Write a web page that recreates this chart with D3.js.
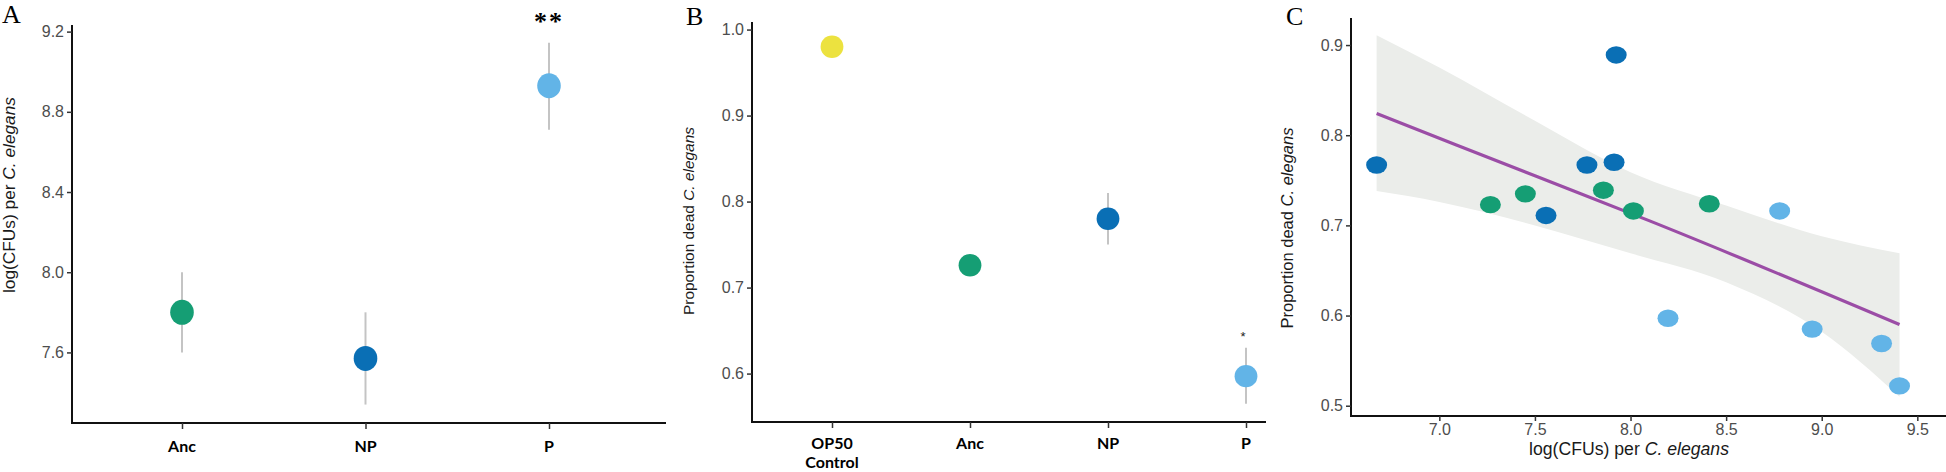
<!DOCTYPE html>
<html>
<head>
<meta charset="utf-8">
<script src="https://cdn.jsdelivr.net/npm/d3@7/dist/d3.min.js"></script>
<style>
  html, body { margin: 0; padding: 0; background: #fff; }
  svg { display: block; }
  .tick text { font-family: "Liberation Sans", Arial, sans-serif; fill: #4d4d4d; }
</style>
</head>
<body>
<svg id="chart" width="1946" height="472"></svg>
<script>
// ---------------- DATA ----------------
// Panel A
const catsA = ["Anc", "NP", "P"];
const meanA = [7.80, 7.57, 8.93];
const lowA  = [7.60, 7.34, 8.71];
const highA = [8.00, 7.80, 9.145];
const sigA  = ["", "", "**"];
const ticksA = [7.6, 8.0, 8.4, 8.8, 9.2];

// Panel B
const catsB = ["OP50|Control", "Anc", "NP", "P"];
const meanB = [0.980, 0.726, 0.780, 0.597];
const lowB  = [null, null, 0.750, 0.565];
const highB = [null, null, 0.810, 0.630];
const sigB  = ["", "", "", "*"];
const ticksB = [0.6, 0.7, 0.8, 0.9, 1.0];

// Panel C
const xC = [6.672, 7.925, 7.772, 7.914, 7.558, 7.267, 7.450, 7.858, 8.015, 8.412, 8.780, 8.196, 8.950, 9.313, 9.407];
const yC = [0.767, 0.889, 0.767, 0.770, 0.711, 0.723, 0.735, 0.739, 0.716, 0.724, 0.716, 0.597, 0.585, 0.569, 0.522];
const gC = ["NP", "NP", "NP", "NP", "NP", "Anc", "Anc", "Anc", "Anc", "Anc", "P", "P", "P", "P", "P"];
const fitX = [6.672, 7.5, 8.1, 9.407];
const fitY = [0.824, 0.755, 0.705, 0.590];
const ciX  = [6.672, 7.0, 7.5, 8.0, 8.5, 9.0, 9.407];
const ciHi = [0.911, 0.875, 0.816, 0.759, 0.722, 0.688, 0.669];
const ciLo = [0.738, 0.726, 0.700, 0.669, 0.637, 0.582, 0.510];
const ticksCx = [7.0, 7.5, 8.0, 8.5, 9.0, 9.5];
const ticksCy = [0.5, 0.6, 0.7, 0.8, 0.9];

const colors = { "OP50|Control": "#ECE23F", "Anc": "#159E74", "NP": "#0A6FB5", "P": "#62B4E7" };

// ---------------- LAYOUT ----------------
const svg = d3.select("#chart");
const sans = '"Liberation Sans", Arial, sans-serif';
const serif = '"Liberation Serif", "Times New Roman", serif';
const lato = 'Lato, "Open Sans", sans-serif';

const LA = { l: 72, r: 666, t: 25, b: 423 };
const LB = { l: 752, r: 1266, t: 22, b: 422 };
const LC = { l: 1351, r: 1946, t: 18, b: 416 };

function frame(L) {
  svg.append("line").attr("x1", L.l).attr("x2", L.l).attr("y1", L.t).attr("y2", L.b + 1)
    .attr("stroke", "#111").attr("stroke-width", 2);
  svg.append("line").attr("x1", L.l - 1).attr("x2", L.r).attr("y1", L.b).attr("y2", L.b)
    .attr("stroke", "#111").attr("stroke-width", 2);
}
function yAxis(scale, L, ticks, fmt) {
  const g = svg.append("g").attr("transform", `translate(${L.l},0)`)
    .call(d3.axisLeft(scale).tickValues(ticks).tickFormat(fmt).tickSize(5).tickPadding(3));
  g.select(".domain").remove();
  g.selectAll(".tick line").attr("stroke", "#333").attr("stroke-width", 1.5);
  g.selectAll(".tick text").attr("font-size", 16);
}
function yTitle(x, y, pre, len, size) {
  const t = svg.append("text").attr("transform", `translate(${x},${y}) rotate(-90)`)
    .attr("text-anchor", "middle").attr("font-family", sans).attr("font-size", size).attr("fill", "#1a1a1a")
    .attr("textLength", len).attr("lengthAdjust", "spacingAndGlyphs");
  t.append("tspan").text(pre);
  t.append("tspan").attr("font-style", "italic").text("C. elegans");
}
function panelLabel(x, y, s) {
  svg.append("text").attr("x", x).attr("y", y).attr("font-family", serif).attr("font-size", 26)
    .attr("fill", "#000").text(s);
}

// ---------------- PANEL A ----------------
const xA = d3.scalePoint().domain(catsA).range([182, 549]);
const yA = d3.scaleLinear().domain([7.248, 9.233]).range([LA.b, LA.t]);
frame(LA);
yAxis(yA, LA, ticksA, d3.format(".1f"));
const gAx = svg.append("g").attr("transform", `translate(0,${LA.b})`)
  .call(d3.axisBottom(xA).tickSize(6).tickFormat(""));
gAx.select(".domain").remove();
gAx.selectAll(".tick line").attr("stroke", "#333").attr("stroke-width", 1.5);
svg.append("g").selectAll("text").data(catsA).join("text")
  .attr("x", d => xA(d)).attr("y", 452).attr("text-anchor", "middle")
  .attr("font-family", lato).attr("font-weight", 700).attr("font-size", 16).attr("fill", "#000")
  .text(d => d);
svg.append("g").selectAll("line").data(catsA).join("line")
  .attr("x1", d => xA(d)).attr("x2", d => xA(d))
  .attr("y1", (d, i) => yA(highA[i])).attr("y2", (d, i) => yA(lowA[i]))
  .attr("stroke", "#c4c4c4").attr("stroke-width", 2);
svg.append("g").selectAll("ellipse").data(catsA).join("ellipse")
  .attr("cx", d => xA(d)).attr("cy", (d, i) => yA(meanA[i])).attr("rx", 11.8).attr("ry", 12.5)
  .attr("fill", d => colors[d]);
svg.append("g").selectAll("text").data(catsA).join("text")
  .attr("x", d => xA(d)).attr("y", 30).attr("text-anchor", "middle")
  .attr("font-family", serif).attr("font-weight", 700).attr("font-size", 26).attr("letter-spacing", 2)
  .text((d, i) => sigA[i]);
yTitle(15, 195, "log(CFUs) per ", 196, 17);
panelLabel(2, 23, "A");

// ---------------- PANEL B ----------------
const xB = d3.scalePoint().domain(catsB).range([832, 1246]);
const yB = d3.scaleLinear().domain([0.5437, 1.0088]).range([LB.b, LB.t]);
frame(LB);
yAxis(yB, LB, ticksB, d3.format(".1f"));
const gBx = svg.append("g").attr("transform", `translate(0,${LB.b})`)
  .call(d3.axisBottom(xB).tickSize(6).tickFormat(""));
gBx.select(".domain").remove();
gBx.selectAll(".tick line").attr("stroke", "#333").attr("stroke-width", 1.5);
const bl = svg.append("g").selectAll("text").data(catsB).join("text")
  .attr("x", d => xB(d)).attr("y", 449).attr("text-anchor", "middle")
  .attr("font-family", lato).attr("font-weight", 700).attr("font-size", 16).attr("fill", "#000");
bl.each(function(d) {
  const parts = d.split("|");
  const t = d3.select(this);
  parts.forEach((p, k) => t.append("tspan").attr("x", xB(d)).attr("dy", k === 0 ? 0 : 19).text(p));
});
const errB = catsB.map((c, i) => ({ c, lo: lowB[i], hi: highB[i] })).filter(d => d.lo != null);
svg.append("g").selectAll("line").data(errB).join("line")
  .attr("x1", d => xB(d.c)).attr("x2", d => xB(d.c))
  .attr("y1", d => yB(d.hi)).attr("y2", d => yB(d.lo))
  .attr("stroke", "#c4c4c4").attr("stroke-width", 2);
svg.append("g").selectAll("ellipse").data(catsB).join("ellipse")
  .attr("cx", d => xB(d)).attr("cy", (d, i) => yB(meanB[i])).attr("rx", 11.4).attr("ry", 11.2)
  .attr("fill", d => colors[d]);
svg.append("g").selectAll("text").data(catsB).join("text")
  .attr("x", d => xB(d) - 3).attr("y", (d, i) => highB[i] != null ? yB(highB[i]) - 7 : 0)
  .attr("text-anchor", "middle").attr("font-family", sans).attr("font-size", 13).attr("fill", "#222")
  .text((d, i) => sigB[i]);
yTitle(694, 221, "Proportion dead ", 188, 15.5);
panelLabel(686, 25, "B");

// ---------------- PANEL C ----------------
const xCs = d3.scaleLinear().domain([6.538, 9.65]).range([LC.l, LC.r]);
const yCs = d3.scaleLinear().domain([0.4886, 0.930]).range([LC.b, LC.t]);
const band = ciX.map((x, i) => ({ x, lo: ciLo[i], hi: ciHi[i] }));
svg.append("path").datum(band)
  .attr("d", d3.area().x(d => xCs(d.x)).y0(d => yCs(d.lo)).y1(d => yCs(d.hi)).curve(d3.curveMonotoneX))
  .attr("fill", "#ebedea");
svg.append("path").datum(fitX.map((x, i) => ({ x, y: fitY[i] })))
  .attr("d", d3.line().x(d => xCs(d.x)).y(d => yCs(d.y)).curve(d3.curveMonotoneX))
  .attr("fill", "none").attr("stroke", "#9B4DA6").attr("stroke-width", 3.2);
svg.append("g").selectAll("ellipse").data(xC.map((x, i) => ({ x, y: yC[i], g: gC[i] }))).join("ellipse")
  .attr("cx", d => xCs(d.x)).attr("cy", d => yCs(d.y)).attr("rx", 10.5).attr("ry", 8.7)
  .attr("fill", d => colors[d.g]);
frame(LC);
yAxis(yCs, LC, ticksCy, d3.format(".1f"));
const gCx = svg.append("g").attr("transform", `translate(0,${LC.b})`)
  .call(d3.axisBottom(xCs).tickValues(ticksCx).tickFormat(d3.format(".1f")).tickSize(5).tickPadding(3));
gCx.select(".domain").remove();
gCx.selectAll(".tick line").attr("stroke", "#333").attr("stroke-width", 1.5);
gCx.selectAll(".tick text").attr("font-size", 16);
const xt = svg.append("text").attr("x", 1629).attr("y", 455).attr("text-anchor", "middle")
  .attr("font-family", sans).attr("font-size", 17.5).attr("fill", "#1a1a1a")
  .attr("textLength", 200).attr("lengthAdjust", "spacingAndGlyphs");
xt.append("tspan").text("log(CFUs) per ");
xt.append("tspan").attr("font-style", "italic").text("C. elegans");
yTitle(1293, 228, "Proportion dead ", 201, 16.5);
panelLabel(1286, 25, "C");
</script>
</body>
</html>
